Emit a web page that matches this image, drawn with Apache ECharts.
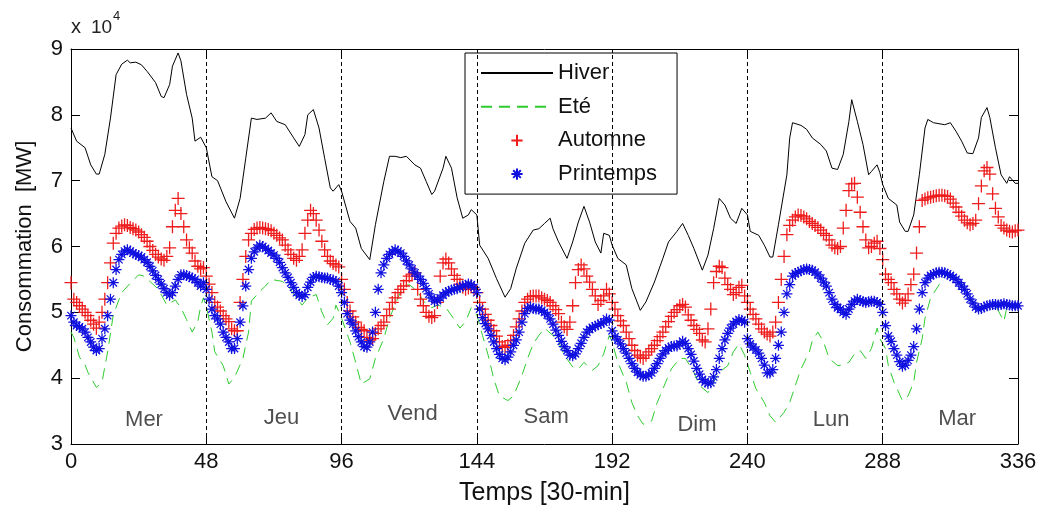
<!DOCTYPE html>
<html><head><meta charset="utf-8">
<script src="https://cdn.jsdelivr.net/npm/echarts@6/dist/echarts.min.js"></script>
<style>html,body{margin:0;padding:0;background:#fff}#c{width:1042px;height:515px}</style>
</head><body><div id="c"></div>
<script>
// values in units of 10^4 MW
const seriesNames = ['Hiver', 'Eté', 'Automne', 'Printemps'];
const dayBounds = [48, 96, 144, 192, 240, 288];
const dayNames = ['Mer', 'Jeu', 'Vend', 'Sam', 'Dim', 'Lun', 'Mar'];
const dayX = [25.9, 74.7, 121.2, 168.6, 222.1, 269.7, 314.4];
const dayY = [3.36, 3.40, 3.45, 3.41, 3.29, 3.36, 3.38];

const hiverX = [0,2,5,7,9,10,12,14,16,18,20,21,23,25,27,30,32,33,35,36,38,39,41,43,44,46,48,50,52,55,58,60,62,64,66,69,71,73,76,79,81,83,84,86,88,90,92,93,95,96,99,101,103,106,108,111,113,115,117,119,122,124,126,128,129,132,133,135,137,139,141,142,144,145,148,151,154,156,158,161,164,166,168,170,171,173,176,178,180,182,184,186,188,189,191,192,194,197,199,202,204,207,210,212,215,217,219,221,224,226,228,230,232,234,236,238,240,241,244,246,248,249,251,254,255,256,259,261,263,266,268,270,272,274,276,277,279,281,283,284,286,287,288,290,293,294,296,297,299,301,303,304,306,310,312,314,316,318,320,322,323,325,326,328,330,332,333,335,336];
const hiverY = [7.8,7.6,7.5,7.24,7.1,7.1,7.4,7.95,8.61,8.77,8.83,8.79,8.8,8.76,8.66,8.49,8.28,8.26,8.46,8.74,8.94,8.82,8.31,7.95,7.6,7.66,7.5,7.06,7.0,6.68,6.43,6.73,7.34,7.95,7.93,7.95,8.03,7.9,7.85,7.65,7.52,7.7,8.0,8.08,7.8,7.34,6.89,6.84,6.94,6.84,6.38,6.28,5.97,5.8,6.33,6.99,7.37,7.37,7.35,7.37,7.24,7.19,6.99,6.79,6.84,7.19,7.37,7.19,6.74,6.43,6.48,6.56,6.48,6.02,5.82,5.51,5.23,5.36,5.67,6.05,6.25,6.27,6.35,6.43,6.27,6.07,5.82,6.07,6.37,6.61,6.37,6.07,5.9,6.2,6.17,6.02,5.82,5.72,5.36,5.03,5.16,5.46,5.82,6.07,6.23,6.35,6.17,5.97,5.64,5.87,6.27,6.73,6.63,6.43,6.35,6.58,6.48,6.23,6.17,6.02,5.84,5.84,6.33,7.09,7.65,7.88,7.84,7.78,7.65,7.55,7.45,7.19,7.17,7.4,7.9,8.23,7.9,7.55,7.09,7.14,7.24,7.12,6.94,6.73,6.63,6.37,6.23,6.23,6.48,7.09,7.8,7.93,7.88,7.85,7.88,7.75,7.6,7.42,7.41,7.65,7.96,8.11,7.96,7.5,7.09,6.96,7.06,6.96,6.96];

const eteX = [0,1,3,5,6,9,11,13,15,17,18,21,24,26,28,31,33,34,37,39,41,43,45,46,47,48,50,51,54,56,58,61,63,64,67,69,71,75,77,80,82,84,87,89,91,93,94,96,99,101,103,106,108,111,113,116,118,120,123,125,128,130,133,136,138,140,142,144,146,148,150,152,155,157,160,162,164,166,168,171,173,175,178,180,182,185,187,189,191,192,194,197,199,201,203,206,208,211,213,216,218,221,223,226,228,230,233,235,237,239,241,243,246,248,250,253,255,257,259,262,263,265,267,269,272,274,276,278,280,282,284,286,287,289,290,292,295,297,299,300,302,303,305,308,310,312,315,317,319,322,324,328,331,332,335,336];
const eteY = [4.7,4.62,4.32,4.2,4.09,3.86,3.94,4.4,4.96,5.19,5.3,5.44,5.57,5.55,5.47,5.35,5.19,5.11,5.19,5.07,4.89,4.7,4.86,5.09,5.22,5.09,4.7,4.4,4.19,3.91,4.01,4.3,4.7,5.17,5.32,5.4,5.5,5.47,5.4,5.22,5.11,5.22,5.27,5.01,4.81,4.91,5.11,4.91,4.55,4.24,3.91,3.99,4.3,4.6,4.91,5.22,5.4,5.42,5.32,5.17,5.07,5.11,5.07,4.89,4.76,4.86,5.07,4.96,4.65,4.35,3.99,3.73,3.66,3.73,4.04,4.3,4.52,4.65,4.76,4.65,4.55,4.35,4.17,4.14,4.24,4.12,4.19,4.37,4.65,4.55,4.24,3.94,3.63,3.43,3.3,3.35,3.63,3.94,4.14,4.3,4.3,4.09,3.89,3.78,3.94,4.09,4.19,4.4,4.52,4.35,4.09,3.84,3.63,3.43,3.33,3.48,3.63,3.89,4.14,4.4,4.57,4.7,4.55,4.3,4.19,4.2,4.24,4.37,4.42,4.3,4.45,4.76,4.6,4.45,4.19,3.94,3.66,3.73,3.94,4.24,4.6,4.91,5.22,5.42,5.55,5.57,5.47,5.37,5.22,5.07,5.07,5.11,4.86,5.07,5.11,5.11];

const automne = [
5.45,5.2,5.15,5.1,5.05,5.0,4.95,4.88,4.82,4.76,
4.85,5.0,5.2,5.45,5.75,6.05,6.2,6.28,6.31,6.33,
6.32,6.29,6.27,6.25,6.22,6.18,6.14,6.08,6.0,5.94,
5.88,5.84,5.81,5.79,5.85,5.98,6.3,6.55,6.73,6.5,
6.3,6.1,5.98,5.9,5.78,5.7,5.66,5.68,5.55,5.43,
5.3,5.15,5.08,5.02,4.95,4.9,4.86,4.75,4.72,4.72,
5.15,5.5,5.85,6.1,6.2,6.26,6.28,6.29,6.28,6.27,
6.26,6.24,6.2,6.17,6.13,6.1,6.02,5.95,5.88,5.82,
5.79,5.85,5.95,6.2,6.4,6.55,6.5,6.4,6.25,6.08,
5.95,5.85,5.78,5.74,5.72,5.69,5.5,5.35,5.15,5.02,
4.93,4.85,4.77,4.74,4.72,4.62,4.58,4.6,4.68,4.75,
4.8,4.85,4.95,5.05,5.15,5.22,5.3,5.35,5.4,5.48,
5.55,5.58,5.6,5.35,5.2,5.1,5.0,4.94,4.92,4.95,
5.15,5.55,5.75,5.81,5.75,5.66,5.56,5.5,5.43,5.38,
5.35,5.37,5.4,5.35,5.3,5.15,5.05,4.97,4.88,4.8,
4.72,4.64,4.55,4.48,4.47,4.5,4.57,4.65,4.78,4.9,
5.02,5.15,5.2,5.24,5.25,5.25,5.25,5.22,5.2,5.18,
5.15,5.1,5.04,4.98,4.85,4.78,4.74,4.85,5.1,5.45,
5.65,5.72,5.66,5.55,5.46,5.35,5.25,5.12,5.18,5.25,
5.35,5.28,5.15,5.05,4.95,4.87,4.8,4.7,4.6,4.5,
4.42,4.35,4.32,4.3,4.35,4.4,4.45,4.5,4.57,4.63,
4.7,4.78,4.86,4.94,5.0,5.04,5.1,5.12,5.08,4.96,
4.88,4.8,4.74,4.68,4.58,4.55,4.75,5.05,5.45,5.62,
5.7,5.68,5.52,5.42,5.35,5.27,5.3,5.38,5.41,5.25,
5.15,5.05,4.97,4.9,4.82,4.75,4.7,4.67,4.64,4.7,
4.85,5.15,5.5,5.85,6.18,6.32,6.4,6.45,6.48,6.47,
6.45,6.42,6.38,6.35,6.32,6.29,6.25,6.2,6.17,6.1,
6.02,5.98,5.97,6.0,6.28,6.55,6.85,6.95,6.96,6.75,
6.52,6.3,6.1,5.98,6.0,6.05,6.08,5.97,5.8,5.58,
5.5,5.45,5.35,5.28,5.2,5.14,5.18,5.28,5.42,5.58,
5.9,6.3,6.7,6.72,6.74,6.75,6.76,6.77,6.78,6.78,
6.77,6.76,6.72,6.66,6.6,6.52,6.46,6.4,6.36,6.33,
6.35,6.4,6.65,6.92,7.15,7.2,7.1,6.8,6.58,6.45,
6.32,6.28,6.25,6.23,6.22,6.24,6.25];

const printemps = [
4.95,4.85,4.8,4.78,4.75,4.7,4.62,4.55,4.47,4.42,
4.45,4.6,4.75,4.95,5.2,5.45,5.65,5.8,5.88,5.93,
5.95,5.93,5.9,5.88,5.86,5.84,5.8,5.76,5.7,5.63,
5.56,5.5,5.43,5.36,5.3,5.26,5.3,5.4,5.5,5.57,
5.57,5.56,5.54,5.52,5.5,5.45,5.4,5.45,5.35,5.2,
5.05,4.95,4.9,4.82,4.7,4.62,4.55,4.45,4.45,4.6,
4.85,5.1,5.4,5.65,5.82,5.92,5.98,6.02,6.0,5.97,
5.94,5.9,5.87,5.82,5.76,5.68,5.6,5.53,5.45,5.38,
5.3,5.26,5.24,5.27,5.38,5.46,5.53,5.55,5.54,5.53,
5.52,5.52,5.5,5.49,5.47,5.4,5.3,5.15,4.98,4.88,
4.82,4.72,4.63,4.55,4.48,4.47,4.55,4.7,5.0,5.35,
5.6,5.72,5.82,5.88,5.92,5.95,5.93,5.9,5.85,5.78,
5.72,5.66,5.6,5.55,5.5,5.44,5.36,5.28,5.22,5.17,
5.18,5.22,5.26,5.3,5.32,5.34,5.35,5.36,5.38,5.4,
5.41,5.43,5.42,5.38,5.3,5.05,4.92,4.83,4.75,4.65,
4.55,4.45,4.36,4.3,4.28,4.32,4.4,4.5,4.58,4.7,
4.85,4.98,5.06,5.08,5.06,5.05,5.05,5.03,5.0,4.96,
4.9,4.82,4.73,4.65,4.56,4.48,4.42,4.35,4.34,4.37,
4.45,4.53,4.62,4.7,4.74,4.77,4.79,4.81,4.83,4.85,
4.9,4.88,4.72,4.63,4.58,4.52,4.45,4.38,4.3,4.22,
4.15,4.09,4.05,4.03,4.03,4.05,4.08,4.15,4.22,4.3,
4.37,4.42,4.46,4.48,4.49,4.49,4.52,4.56,4.53,4.45,
4.36,4.26,4.15,4.06,3.98,3.94,3.92,3.93,4.02,4.13,
4.3,4.45,4.58,4.68,4.76,4.82,4.86,4.89,4.88,4.85,
4.6,4.52,4.47,4.43,4.38,4.3,4.2,4.08,4.08,4.13,
4.3,4.5,4.7,5.0,5.28,5.42,5.55,5.59,5.61,5.63,
5.65,5.66,5.65,5.64,5.61,5.57,5.52,5.46,5.4,5.3,
5.2,5.12,5.07,5.05,5.0,4.97,5.05,5.12,5.17,5.2,
5.18,5.16,5.15,5.16,5.17,5.17,5.15,5.12,5.0,4.8,
4.64,4.56,4.45,4.35,4.25,4.18,4.2,4.27,4.35,4.48,
4.75,5.05,5.3,5.45,5.52,5.56,5.58,5.6,5.61,5.61,
5.6,5.58,5.56,5.53,5.5,5.45,5.4,5.35,5.28,5.2,
5.14,5.08,5.05,5.06,5.08,5.1,5.11,5.12,5.12,5.11,
5.12,5.13,5.12,5.11,5.1,5.1,5.1];

const FONT = 'Liberation Sans, Arial, sans-serif';
const plusPath = 'path://M0,5L10,5M5,0L5,10';
const starPath = 'path://M5,0L5,10M0,5L10,5M1.6,1.6L8.4,8.4M8.4,1.6L1.6,8.4';

const chart = echarts.init(document.getElementById('c'), null, {renderer: 'canvas'});
const pairs = (xs, ys) => xs.map((x, k) => [x, ys[k]]);
const idxPairs = ys => ys.map((y, i) => [i, y]);

const axisCommon = {
  min: 0, max: 336, interval: 48,
  axisLine: {show: true, onZero: false, lineStyle: {color: '#000', width: 1}},
  axisTick: {show: true, inside: true, length: 9, lineStyle: {color: '#000'}},
  splitLine: {show: false}
};
const yCommon = {
  min: 3, max: 9, interval: 1,
  axisLine: {show: true, onZero: false, lineStyle: {color: '#000', width: 1}},
  axisTick: {show: true, inside: true, length: 9, lineStyle: {color: '#000'}},
  splitLine: {show: false}
};

chart.setOption({
  animation: false,
  backgroundColor: '#fff',
  grid: {left: 71, right: 24, top: 49, bottom: 71},
  graphic: [
    {type: 'text', left: 71, top: 17, style: {text: 'x', fontSize: 20, fontFamily: FONT, fill: '#222'}},
    {type: 'text', left: 91, top: 18, style: {text: '10', fontSize: 19, fontFamily: FONT, fill: '#222'}},
    {type: 'text', left: 113, top: 10, style: {text: '4', fontSize: 13, fontFamily: FONT, fill: '#222'}}
  ],
  legend: {
    data: [
      {name: 'Hiver', itemStyle: {opacity: 0}},
      {name: 'Eté', itemStyle: {opacity: 0}},
      {name: 'Automne'},
      {name: 'Printemps'}
    ],
    orient: 'vertical',
    left: 465, top: 53,
    padding: [9, 20, 9, 15],
    itemWidth: 72, itemHeight: 14, itemGap: 11.7,
    borderColor: '#000', borderWidth: 1, backgroundColor: '#fff',
    textStyle: {fontSize: 22, fontFamily: FONT, color: '#111'}
  },
  xAxis: [
    Object.assign({type: 'value', position: 'bottom',
      axisLabel: {fontSize: 22, fontFamily: FONT, color: '#111', margin: 7},
      name: 'Temps [30-min]', nameLocation: 'middle', nameGap: 37,
      nameTextStyle: {fontSize: 25, fontFamily: FONT, color: '#111'}}, axisCommon),
    Object.assign({type: 'value', position: 'top', axisLabel: {show: false}}, axisCommon)
  ],
  yAxis: [
    Object.assign({type: 'value', position: 'left',
      axisLabel: {fontSize: 22, fontFamily: FONT, color: '#111', margin: 8},
      name: 'Consommation  [MW]', nameLocation: 'middle', nameGap: 35,
      nameTextStyle: {fontSize: 22, fontFamily: FONT, color: '#111'}}, yCommon),
    Object.assign({type: 'value', position: 'right', axisLabel: {show: false}}, yCommon)
  ],
  series: [
    {
      name: seriesNames[0], type: 'line', data: pairs(hiverX, hiverY),
      symbol: 'none', color: '#000',
      lineStyle: {color: '#000', width: 1},
      markLine: {
        silent: true, symbol: ['none', 'none'], label: {show: false},
        lineStyle: {color: '#000', width: 1, type: [4, 3]},
        data: dayBounds.map(b => ({xAxis: b}))
      }
    },
    {
      name: seriesNames[1], type: 'line', data: pairs(eteX, eteY),
      symbol: 'none', color: '#2ecc2e',
      lineStyle: {color: '#2ecc2e', width: 1, type: [11, 7]}
    },
    {
      name: seriesNames[2], type: 'line', data: idxPairs(automne),
      symbol: plusPath, symbolSize: 13, showSymbol: true, showAllSymbol: true,
      color: '#ee1c1c',
      lineStyle: {width: 0, opacity: 0},
      itemStyle: {color: '#ee1c1c', borderColor: '#ee1c1c', borderWidth: 1.3}
    },
    {
      name: seriesNames[3], type: 'line', data: idxPairs(printemps),
      symbol: starPath, symbolSize: 11, showSymbol: true, showAllSymbol: true,
      color: '#1010e0',
      lineStyle: {width: 0, opacity: 0},
      itemStyle: {color: '#1010e0', borderColor: '#1010e0', borderWidth: 1.25}
    },
    {
      name: 'days', type: 'scatter', symbolSize: 0, silent: true,
      data: dayNames.map((n, k) => ({name: n, value: [dayX[k], dayY[k]]})),
      label: {show: true, position: 'inside', formatter: p => p.name,
        fontSize: 22, fontFamily: FONT, color: '#222'}
    }
  ]
});
</script></body></html>
